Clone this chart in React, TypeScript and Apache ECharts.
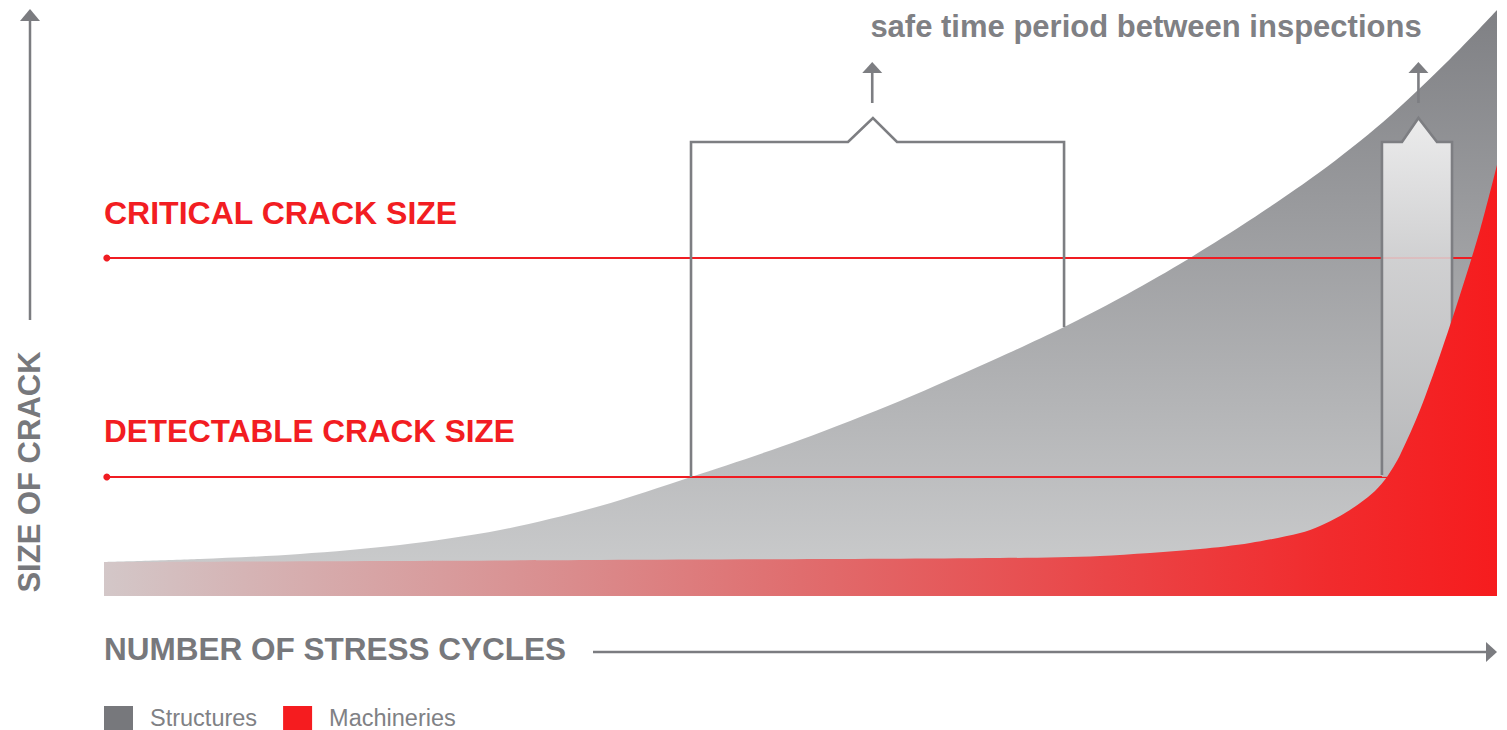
import React, { useEffect, useRef } from "react";
import * as echarts from "echarts";

// ---- data (x: stress cycles 0..100, y: crack size 0..100) ----
const seriesNames = ["Structures", "Machineries"];

const structuresCurve: number[][] = [
  [0, 5.8], [6.89, 6.31], [14.07, 7.17], [21.25, 8.7], [28.43, 11.26],
  [35.61, 15.36], [42.14, 20.31], [49.96, 26.62], [57.14, 33.28], [64.32, 40.78],
  [68.92, 45.9], [72.94, 50.85], [77.24, 56.66], [82.27, 64.16], [87.29, 72.35],
  [91.82, 80.89], [96.63, 91.64], [100, 100],
];

const machineriesCurve: number[][] = [
  [0, 5.8], [35.61, 6.14], [64.32, 6.48], [71.5, 6.83], [78.68, 8.02],
  [82.27, 9.04], [85.86, 10.75], [87.29, 11.95], [88.73, 13.65], [90.17, 15.87],
  [91.24, 17.92], [92.1, 20.31], [93.04, 24.06], [94.47, 31.74], [95.91, 41.13],
  [97.34, 51.37], [98.78, 62.46], [100, 73.55],
];

const thresholdLabels = ["CRITICAL CRACK SIZE", "DETECTABLE CRACK SIZE"];
const thresholdValues = [57.68, 20.31];
const thresholdSpan = [0.2, 100];

const safePeriodBracket: number[][] = [
  [42.14, 20.31], [42.14, 77.47], [53.41, 77.47], [55.2, 81.57],
  [56.93, 77.47], [68.92, 77.47], [68.92, 45.9],
];
const inspectionBracket: number[][] = [
  [91.74, 20.65], [91.74, 77.47], [93.18, 77.47], [94.36, 81.57],
  [95.69, 77.47], [96.77, 77.47], [96.77, 45.39],
];
const inspectionFill: number[][] = [
  [91.74, 20.31], [91.74, 77.47], [93.18, 77.47], [94.36, 81.57],
  [95.69, 77.47], [96.77, 77.47], [96.77, 20.31],
];
// [x, shaft start y, tip y]
const bracketArrows: number[][] = [
  [55.15, 84.13, 91.13],
  [94.36, 84.13, 91.13],
];

const annotationTitle = "safe time period between inspections";
const xAxisTitle = "NUMBER OF STRESS CYCLES";
const yAxisTitle = "SIZE OF CRACK";

const GRAY = "#7d7e82";
const RED = "#f01c22";
const FONT = '"Liberation Sans", Arial, sans-serif';

export default function App() {
  const ref = useRef<HTMLDivElement>(null);

  useEffect(() => {
    document.body.style.margin = "0";
    if (!ref.current) return;
    const chart = echarts.init(ref.current, null, { renderer: "svg" });

    const thresholdSeries = thresholdValues.map((v) => ({
      type: "line",
      data: thresholdSpan.map((x) => [x, v]),
      symbol: (_val: any, p: any) => (p.dataIndex === 0 ? "circle" : "none"),
      symbolSize: 7,
      showSymbol: true,
      lineStyle: { color: RED, width: 1.8 },
      itemStyle: { color: RED },
      silent: true,
      z: 2,
    }));

    const option: any = {
      animation: false,
      grid: { left: 104, right: 10, top: 10, bottom: 134 },
      xAxis: { type: "value", min: 0, max: 100, show: false },
      yAxis: { type: "value", min: 0, max: 100, show: false },
      legend: {
        left: 104,
        top: 706,
        padding: 0,
        icon: "rect",
        itemWidth: 29,
        itemHeight: 24,
        itemGap: 26,
        selectedMode: false,
        data: [
          { name: seriesNames[0], itemStyle: { color: "#77787c" } },
          { name: seriesNames[1], itemStyle: { color: "#f51c1f" } },
        ],
        textStyle: {
          fontFamily: FONT,
          fontSize: 23.5,
          color: "#808185",
          padding: [0, 0, 0, 12],
        },
      },
      series: [
        {
          name: seriesNames[0],
          type: "line",
          data: structuresCurve,
          smooth: 0.3,
          symbol: "none",
          lineStyle: { width: 0 },
          itemStyle: { color: "#77787c" },
          areaStyle: {
            opacity: 1,
            color: new echarts.graphic.LinearGradient(0, 0, 0, 1, [
              { offset: 0, color: "#7f8084" },
              { offset: 1, color: "#cdcecf" },
            ]),
          },
          silent: true,
          z: 1,
        },
        ...thresholdSeries,
        {
          type: "custom",
          data: [[0, 0]],
          clip: false,
          silent: true,
          z: 3,
          renderItem: (_params: any, api: any) => {
            const pts = (arr: number[][]) => arr.map((p) => api.coord(p));
            const children: any[] = [];
            children.push({
              type: "polygon",
              shape: { points: pts(inspectionFill) },
              style: {
                fill: new echarts.graphic.LinearGradient(0, 0, 0, 1, [
                  { offset: 0, color: "#fbfbfb" },
                  { offset: 0.39, color: "#d8d8d9" },
                  { offset: 1, color: "#b7b8ba" },
                ]),
                opacity: 0.86,
                stroke: "none",
              },
            });
            [safePeriodBracket, inspectionBracket].forEach((b) =>
              children.push({
                type: "polyline",
                shape: { points: pts(b) },
                style: { stroke: GRAY, lineWidth: 2.6, fill: "none" },
              })
            );
            bracketArrows.forEach(([x, y0, y1]) => {
              const a = api.coord([x, y0]);
              const t = api.coord([x, y1]);
              children.push({
                type: "line",
                shape: { x1: a[0], y1: a[1], x2: t[0], y2: t[1] + 10 },
                style: { stroke: GRAY, lineWidth: 2.6, fill: "none" },
              });
              children.push({
                type: "polygon",
                shape: {
                  points: [
                    [t[0], t[1]],
                    [t[0] - 10, t[1] + 11],
                    [t[0] + 10, t[1] + 11],
                  ],
                },
                style: { fill: GRAY, stroke: "none" },
              });
            });
            return { type: "group", children };
          },
        },
        {
          name: seriesNames[1],
          type: "line",
          data: machineriesCurve,
          smooth: 0.3,
          symbol: "none",
          lineStyle: { width: 0 },
          itemStyle: { color: "#f51c1f" },
          areaStyle: {
            opacity: 1,
            color: new echarts.graphic.LinearGradient(0, 0, 1, 0, [
              { offset: 0, color: "#d3c7c8" },
              { offset: 0.1, color: "#d5b4b5" },
              { offset: 0.34, color: "#da8b8c" },
              { offset: 0.5, color: "#e06d6e" },
              { offset: 0.72, color: "#ea4547" },
              { offset: 0.88, color: "#f12b2d" },
              { offset: 1, color: "#f61c1e" },
            ]),
          },
          silent: true,
          z: 4,
        },
      ],
      graphic: [
        {
          type: "line",
          shape: { x1: 30, y1: 320, x2: 30, y2: 20 },
          style: { stroke: "#7b7c80", lineWidth: 2.5 },
        },
        {
          type: "polygon",
          shape: { points: [[30, 9], [20, 21], [40, 21]] },
          style: { fill: "#7b7c80" },
        },
        {
          type: "line",
          shape: { x1: 593, y1: 652, x2: 1488, y2: 652 },
          style: { stroke: "#7b7c80", lineWidth: 2.5 },
        },
        {
          type: "polygon",
          shape: { points: [[1497, 652], [1486, 642], [1486, 662]] },
          style: { fill: "#7b7c80" },
        },
        {
          type: "text",
          x: 104,
          y: 213,
          style: {
            text: thresholdLabels[0],
            font: `bold 32px ${FONT}`,
            fill: "#f21d22",
            align: "left",
            verticalAlign: "middle",
          },
        },
        {
          type: "text",
          x: 104,
          y: 431,
          style: {
            text: thresholdLabels[1],
            font: `bold 31.5px ${FONT}`,
            fill: "#f21d22",
            align: "left",
            verticalAlign: "middle",
          },
        },
        {
          type: "text",
          x: 104,
          y: 649,
          style: {
            text: xAxisTitle,
            font: `bold 31.5px ${FONT}`,
            fill: "#77787c",
            align: "left",
            verticalAlign: "middle",
          },
        },
        {
          type: "text",
          x: 29,
          y: 472,
          rotation: Math.PI / 2,
          style: {
            text: yAxisTitle,
            font: `bold 31px ${FONT}`,
            fill: "#77787c",
            align: "center",
            verticalAlign: "middle",
          },
        },
        {
          type: "text",
          x: 1146,
          y: 26,
          style: {
            text: annotationTitle,
            font: `bold 31px ${FONT}`,
            fill: "#7f8084",
            align: "center",
            verticalAlign: "middle",
          },
        },
      ],
    };

    chart.setOption(option);
    return () => chart.dispose();
  }, []);

  return <div ref={ref} style={{ width: 1507, height: 730 }} />;
}
